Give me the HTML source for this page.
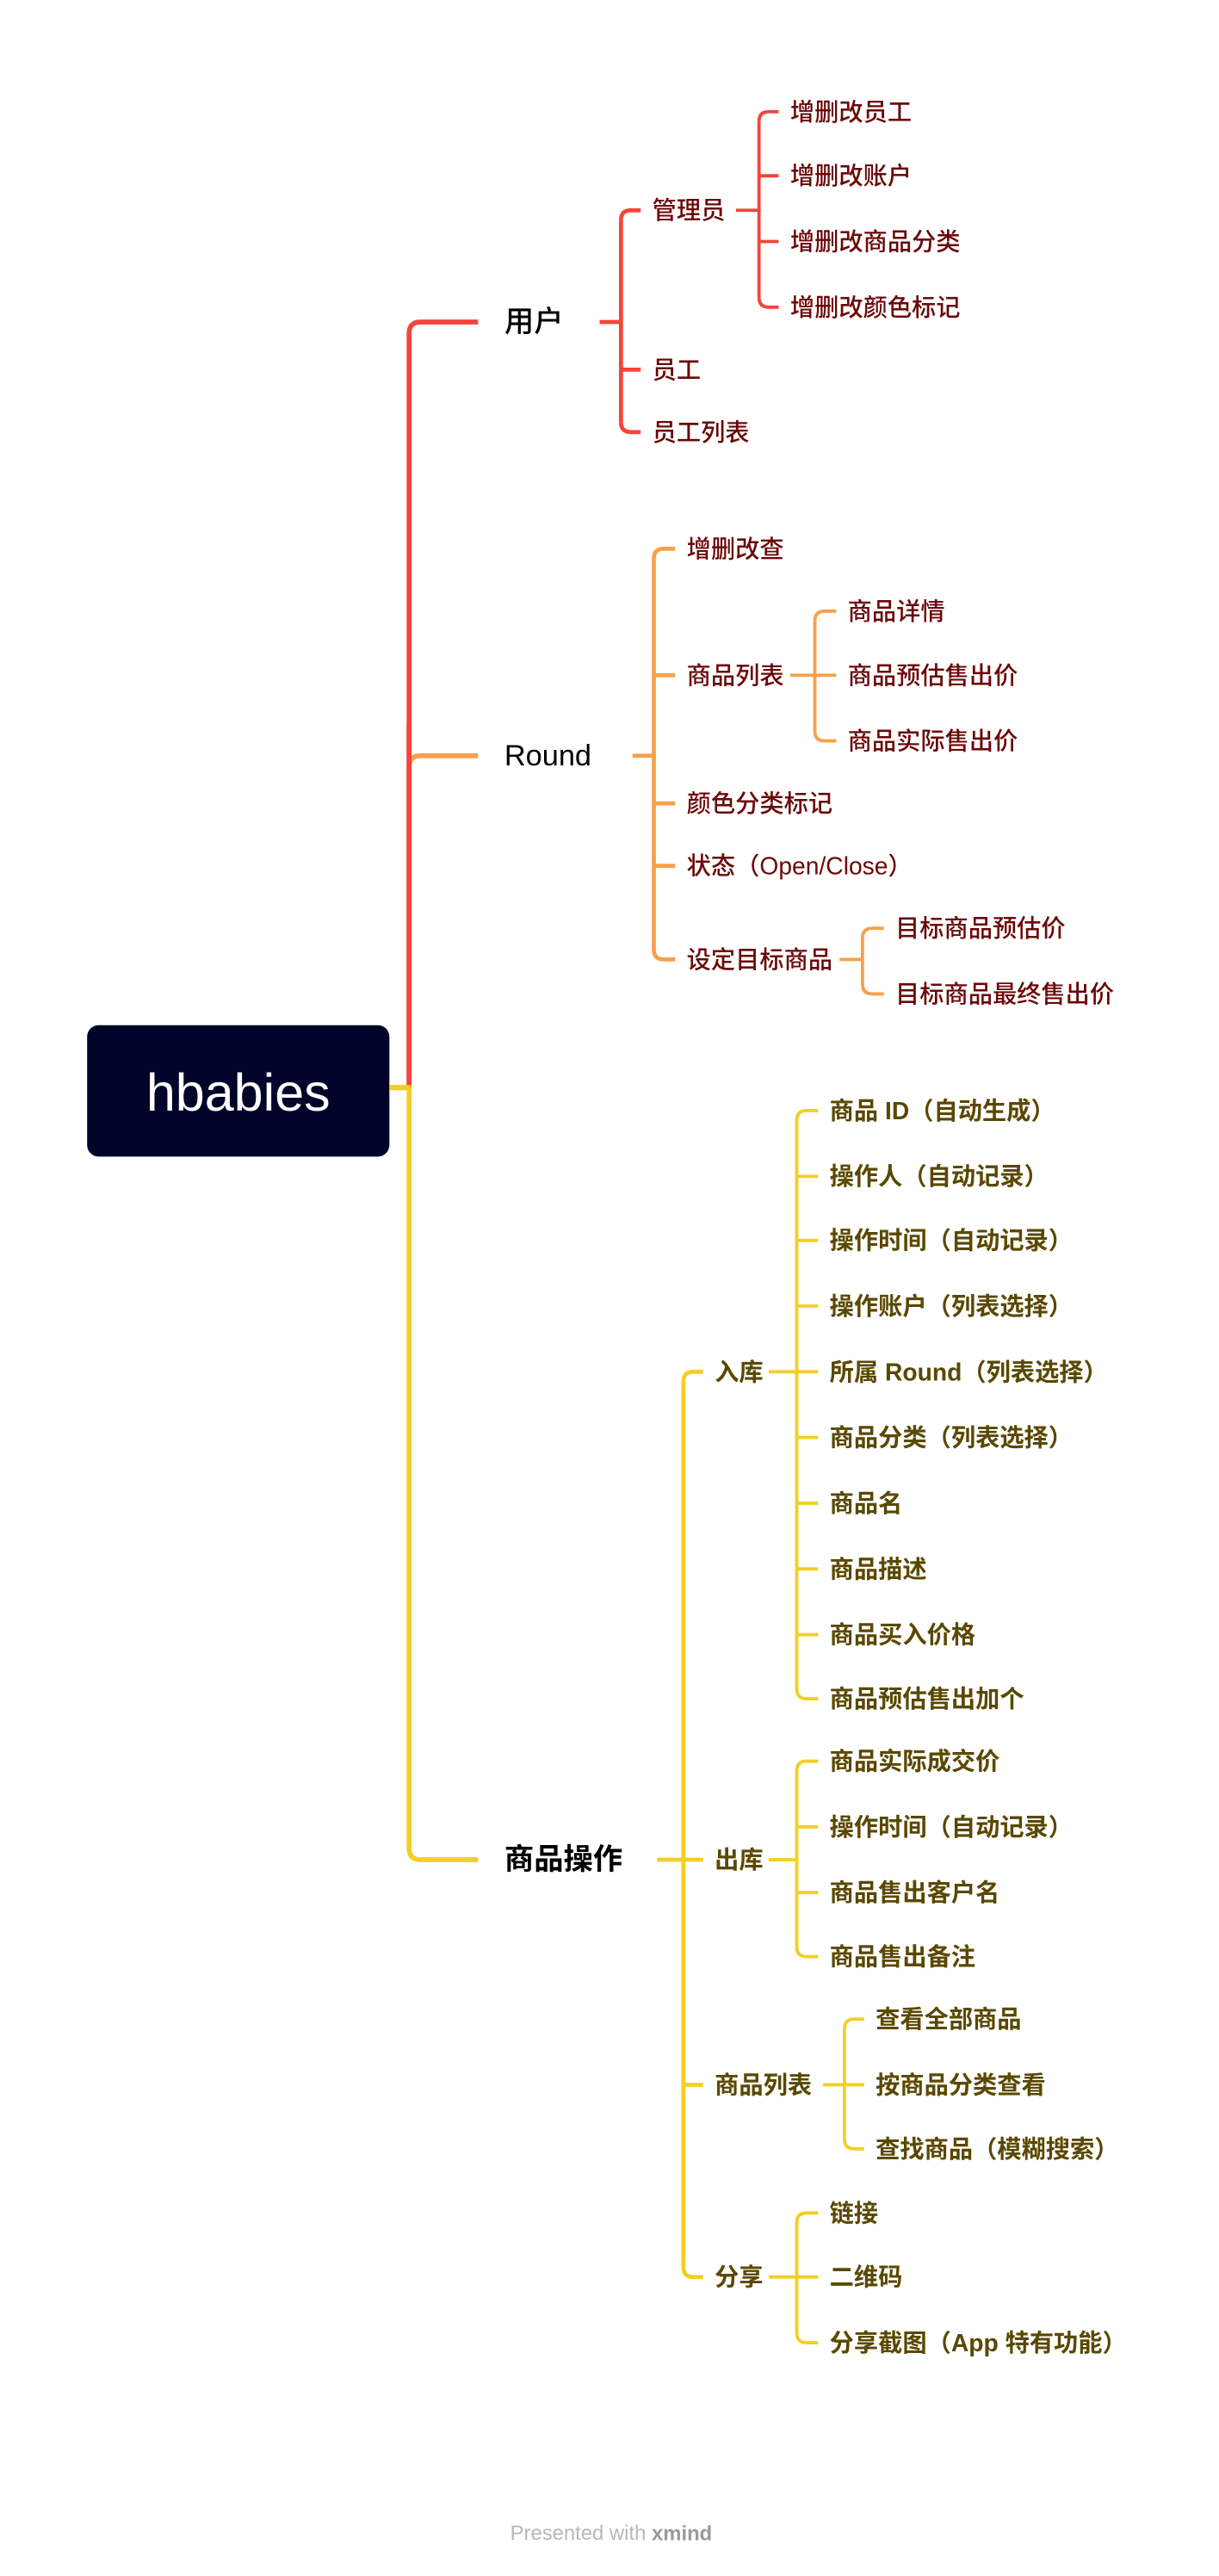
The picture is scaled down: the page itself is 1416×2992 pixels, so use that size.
<!DOCTYPE html>
<html><head><meta charset="utf-8"><title>hbabies mind map</title>
<style>
html,body{margin:0;padding:0;background:#fff;}
svg{display:block;}
text{font-family:"Liberation Sans","Noto Sans CJK SC",sans-serif;}
</style></head>
<body>
<svg id="map" width="1416" height="2992" viewBox="0 0 742 1568" xmlns="http://www.w3.org/2000/svg">
  <rect x="53" y="624" width="184" height="80" rx="7" fill="#000428"/>
  <text x="145" y="665" font-size="32" fill="#fff" text-anchor="middle" dominant-baseline="central" font-weight="500">hbabies</text>
  <text x="372" y="1542" font-size="12.5" fill="#b8b8b8" text-anchor="middle" dominant-baseline="central">Presented with <tspan font-weight="bold" fill="#9a9a9a">xmind</tspan></text>
</svg>
<script>
const RED="#f5443a", ORANGE="#f7a04b", YELLOW="#f2cf22";
const TXT_RED="#6b0808", TXT_YEL="#5a4800";
const svg=document.getElementById('map');
const NS="http://www.w3.org/2000/svg";
function mk(tag,attrs){const e=document.createElementNS(NS,tag);for(const k in attrs)e.setAttribute(k,attrs[k]);svg.appendChild(e);return e;}
function label(x,y,t,size,color,weight,name){
  const e=mk('text',{x:x,y:y,'font-size':size,fill:color,'dominant-baseline':'central','font-weight':weight});
  e.textContent=t;
  
  
  return e;
}
function group(py,px,vx,cx,children,color,sw,tcolor,size,weight,name){
  const ys=children.map(c=>c[0]);const top=Math.min(...ys),bot=Math.max(...ys);const r=6;
  if(px!==null){const l=mk('line',{x1:px,y1:py,x2:vx,y2:py,stroke:color,'stroke-width':sw});
    
    }
  const v=mk('path',{d:`M${vx},${top+r}V${bot-r}`,stroke:color,'stroke-width':sw,fill:'none'});
  
  
  const ex=cx-7;
  children.forEach((c,i)=>{
    const y=c[0];let d;
    if(y===top&&top!==bot) d=`M${ex},${y}H${vx+r}Q${vx},${y} ${vx},${y+r}`;
    else if(y===bot&&top!==bot) d=`M${ex},${y}H${vx+r}Q${vx},${y} ${vx},${y-r}`;
    else d=`M${vx},${y}H${ex}`;
    const p=mk('path',{d:d,stroke:color,'stroke-width':sw,fill:'none'});
    
    
    label(cx,y,c[1],size,tcolor,weight,name+'-item-'+i);
  });
}
const t1=mk('path',{d:`M237,662H249V${196+7}Q249,196 256,196H291`,stroke:RED,'stroke-width':3,fill:'none'});


const t1c=mk('path',{d:`M249,467Q249,460 256,460H291`,stroke:ORANGE,'stroke-width':3,fill:'none'});


const t1d=mk('path',{d:`M249,440V662`,stroke:RED,'stroke-width':3,fill:'none'});


const t2=mk('path',{d:`M237,662H249V${1132-7}Q249,1132 256,1132H291`,stroke:YELLOW,'stroke-width':3,fill:'none'});


label(307,196,'用户',18,'#000','500','topic-users');
label(307,460,'Round',18,'#000','500','topic-round');
label(307,1132,'商品操作',18,'#000','bold','topic-goods');
const S=14.8;
group(196,365,378,397,[[128,'管理员'],[225,'员工'],[263,'员工列表']],RED,2.5,TXT_RED,S,'500','users');
group(128,448,462,481,[[68,'增删改员工'],[107,'增删改账户'],[147,'增删改商品分类'],[187,'增删改颜色标记']],RED,2,TXT_RED,S,'500','admin');
group(460,385,398,418,[[334,'增删改查'],[411,'商品列表'],[489,'颜色分类标记'],[527,'状态（Open/Close）'],[584,'设定目标商品']],ORANGE,2.5,TXT_RED,S,'500','round');
group(411,481,496,516,[[372,'商品详情'],[411,'商品预估售出价'],[451,'商品实际售出价']],ORANGE,2,TXT_RED,S,'500','round-list');
group(584,511,525,545,[[565,'目标商品预估价'],[605,'目标商品最终售出价']],ORANGE,2,TXT_RED,S,'500','target');
group(1132,400,416,435,[[835,'入库'],[1132,'出库'],[1269,'商品列表'],[1386,'分享']],YELLOW,2.5,TXT_YEL,S,'bold','goods');
group(835,468,485,505,[[676,'商品 ID（自动生成）'],[716,'操作人（自动记录）'],[755,'操作时间（自动记录）'],[795,'操作账户（列表选择）'],[835,'所属 Round（列表选择）'],[875,'商品分类（列表选择）'],[915,'商品名'],[955,'商品描述'],[995,'商品买入价格'],[1034,'商品预估售出加个']],YELLOW,2,TXT_YEL,S,'bold','stock-in');
group(1132,468,485,505,[[1072,'商品实际成交价'],[1112,'操作时间（自动记录）'],[1152,'商品售出客户名'],[1191,'商品售出备注']],YELLOW,2,TXT_YEL,S,'bold','stock-out');
group(1269,501,514,533,[[1229,'查看全部商品'],[1269,'按商品分类查看'],[1308,'查找商品（模糊搜索）']],YELLOW,2,TXT_YEL,S,'bold','goods-list');
group(1386,468,485,505,[[1347,'链接'],[1386,'二维码'],[1426,'分享截图（App 特有功能）']],YELLOW,2,TXT_YEL,S,'bold','share');
</script>
</body></html>
